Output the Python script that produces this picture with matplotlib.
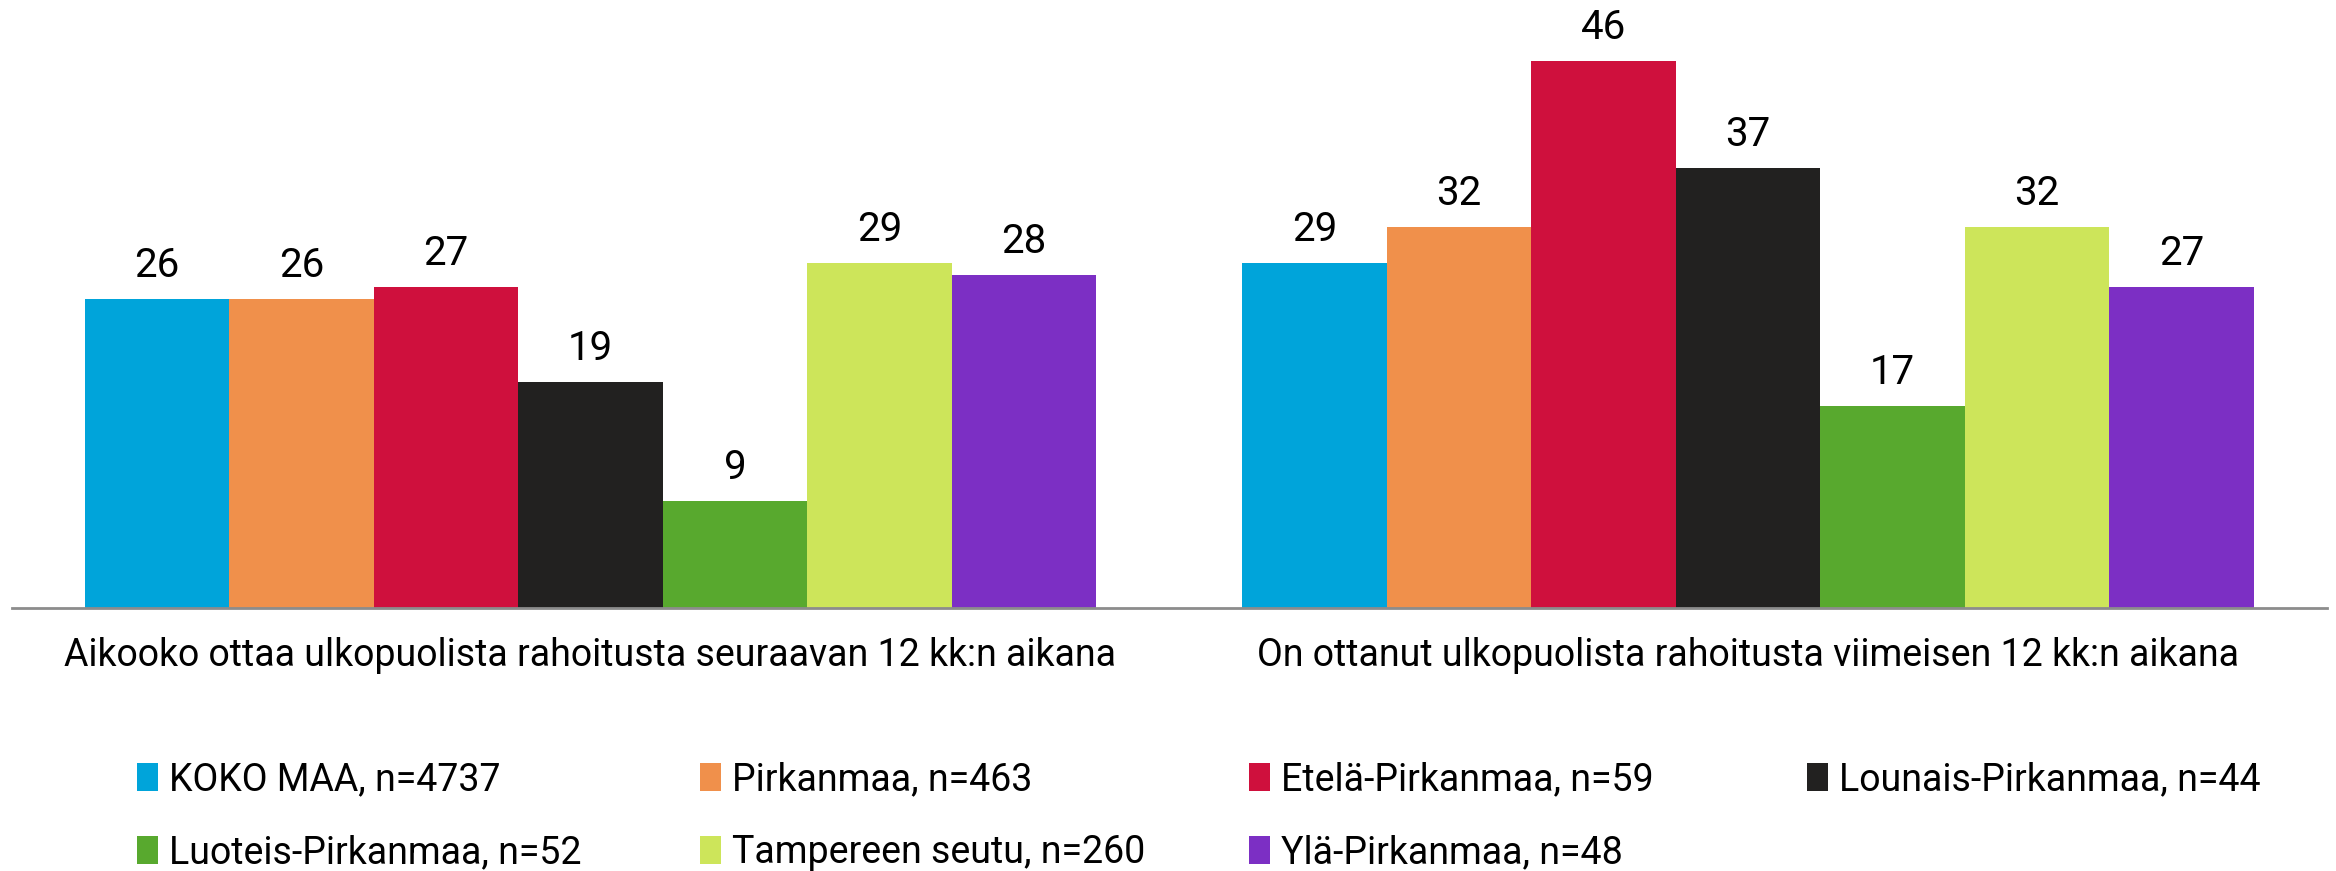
import numpy as np
import matplotlib.pyplot as plt
from matplotlib.patches import Patch

plt.rcParams['font.family'] = ['Roboto', 'DejaVu Sans']

# Data
categories = ['Aikooko ottaa ulkopuolista rahoitusta seuraavan 12 kk:n aikana',
              'On ottanut ulkopuolista rahoitusta viimeisen 12 kk:n aikana']
series = ['KOKO MAA, n=4737', 'Pirkanmaa, n=463', 'Etelä-Pirkanmaa, n=59',
          'Lounais-Pirkanmaa, n=44', 'Luoteis-Pirkanmaa, n=52',
          'Tampereen seutu, n=260', 'Ylä-Pirkanmaa, n=48']
values = [
    [26, 29],
    [26, 32],
    [27, 46],
    [19, 37],
    [9, 17],
    [29, 32],
    [28, 27],
]
colors = ['#00A4DA', '#F0904B', '#CF103D', '#222120', '#58A92E', '#CDE55A', '#7C2FC4']

fig = plt.figure(figsize=(23.36, 8.71), dpi=100)
ax = fig.add_axes([0.005, 0.302, 0.991, 0.683])

x = np.arange(len(categories))
group_w = 0.874
bw = group_w / len(series)
for i, (name, vals) in enumerate(zip(series, values)):
    pos = x - group_w / 2 + bw * (i + 0.5)
    bars = ax.bar(pos, vals, width=bw, color=colors[i], label=name)
    ax.bar_label(bars, labels=[str(v) for v in vals], padding=10, fontsize=29)

ax.set_xlim(-0.5, 1.5)
ax.set_ylim(0, 50)
ax.set_yticks([])
ax.set_xticks(x)
ax.set_xticklabels(categories, fontsize=27)
ax.tick_params(axis='x', length=0, pad=21)
for s in ['top', 'right', 'left']:
    ax.spines[s].set_visible(False)
ax.spines['bottom'].set_color('#8c8c8c')
ax.spines['bottom'].set_linewidth(2)

# legend laid out row-wise, four evenly spaced columns
ncol = 4
col_x = [0.0586, 0.2997, 0.5347, 0.7736]
for c in range(ncol):
    idx = list(range(c, len(series), ncol))
    fig.legend([Patch(facecolor=colors[k]) for k in idx], [series[k] for k in idx],
               loc='upper left', bbox_to_anchor=(col_x[c], 0.126), frameon=False,
               fontsize=27, handlelength=0.55, handleheight=0.75, handletextpad=0.3,
               labelspacing=0.95, borderaxespad=0, borderpad=0)

fig.savefig('out.png', dpi=100)
